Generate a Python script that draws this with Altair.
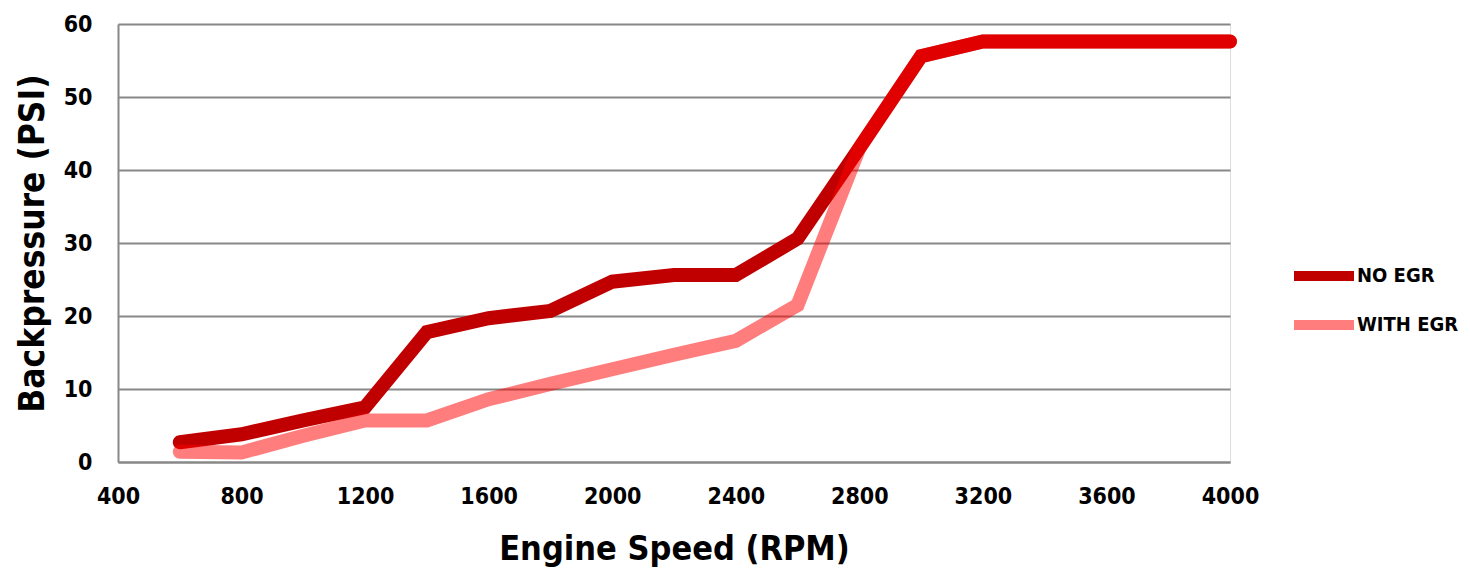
import altair as alt
import pandas as pd

rpm = [600, 800, 1000, 1200, 1400, 1600, 1800, 2000, 2200, 2400, 2600, 2800, 3000, 3200, 3400, 3600, 3800, 4000]
no_egr = [2.7, 3.8, 5.7, 7.5, 17.8, 19.7, 20.7, 24.7, 25.6, 25.6, 30.6, 43.0, 55.6, 57.6, 57.6, 57.6, 57.6, 57.6]
with_egr = [1.4, 1.3, 3.6, 5.7, 5.7, 8.6, 10.7, 12.7, 14.7, 16.6, 21.5, 43.0, 55.6, 57.6, 57.6, 57.6, 57.6, 57.6]
series = ["NO EGR", "WITH EGR"]
colors = ["#C00000", "rgba(255,0,0,0.51)"]
x_ticks = [400, 800, 1200, 1600, 2000, 2400, 2800, 3200, 3600, 4000]
y_ticks = [0, 10, 20, 30, 40, 50, 60]

rows = []
for s, vals in zip(series, [no_egr, with_egr]):
    for r, v in zip(rpm, vals):
        rows.append({"rpm": r, "psi": v, "series": s})
df = pd.DataFrame(rows)

FONT = "DejaVu Sans Condensed, DejaVu Sans, sans-serif"

chart = alt.Chart(df).mark_line(strokeWidth=14, strokeCap="round").encode(
    x=alt.X("rpm:Q", scale=alt.Scale(domain=[400, 4000], nice=False),
            axis=alt.Axis(values=x_ticks, format="d", title="Engine Speed (RPM)", grid=False,
                          ticks=False, domain=True, domainColor="#888888", domainWidth=2,
                          labelFlush=False, labelOverlap=False,
                          labelFont=FONT, labelFontSize=23, labelFontWeight="bold", labelColor="#000000",
                          labelPadding=23, titleFont=FONT, titleFontSize=34, titleFontWeight="bold",
                          titleColor="#000000", titleY=97, titleBaseline="alphabetic")),
    y=alt.Y("psi:Q", scale=alt.Scale(domain=[0, 60], nice=False),
            axis=alt.Axis(values=y_ticks, format="d", title="Backpressure (PSI)", grid=True,
                          gridColor="#888888", gridWidth=2, ticks=False, domain=True,
                          domainColor="#888888", domainWidth=2, labelFlush=False, labelOverlap=False,
                          labelFont=FONT, labelFontSize=23, labelFontWeight="bold", labelColor="#000000",
                          labelPadding=26, titleFont=FONT, titleFontSize=35, titleFontWeight="bold",
                          titleColor="#000000", titleX=-86, titleY=219, titleBaseline="middle",
                          titleAlign="center")),
    color=alt.Color("series:N", scale=alt.Scale(domain=series, range=colors),
                    legend=alt.Legend(title=None, orient="none", legendX=1186, legendY=232,
                                      symbolType="M-2,0H2", symbolSize=900, symbolStrokeWidth=10,
                                      labelFont=FONT, labelFontSize=20, labelFontWeight="bold",
                                      labelColor="#000000", labelOffset=13, rowPadding=9, padding=0)),
).properties(
    width=1112, height=438, padding={"left": 110, "top": 16, "right": 232, "bottom": 106},
    autosize=alt.AutoSizeParams(type="none"),
).configure_view(stroke=None).configure(background="#FFFFFF")

chart.save("out.html", embed_options={"renderer": "svg", "actions": False})
